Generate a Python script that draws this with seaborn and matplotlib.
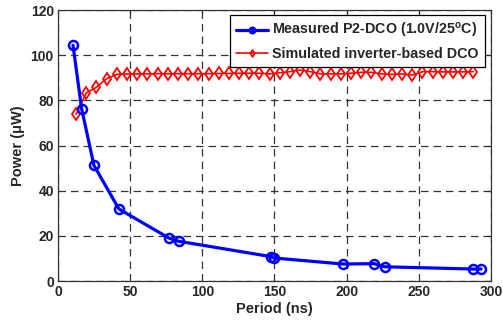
import matplotlib
matplotlib.use("Agg")
import matplotlib.pyplot as plt
import seaborn as sns
import pandas as pd

# Measured P2-DCO
meas_period = [10.4, 16.4, 24.9, 42.2, 76.9, 83.6, 147.5, 149.5, 197.8, 218.8, 226.4, 287.6, 293.2]
meas_power = [104.4, 76.2, 51.2, 31.9, 19.0, 17.6, 10.8, 10.2, 7.5, 7.7, 6.3, 5.3, 5.3]

# Simulated inverter-based DCO
sim_period = [12.5, 19.6, 26.6, 33.7, 40.7, 47.8, 54.9, 61.9, 69.0, 76.0,
              83.1, 90.2, 97.2, 104.3, 111.3, 118.4, 125.5, 132.5, 139.6, 146.6,
              153.7, 160.8, 167.8, 174.9, 181.9, 189.0, 196.1, 203.1, 210.2, 217.2,
              224.3, 231.4, 238.4, 245.5, 252.5, 259.6, 266.7, 273.7, 280.8, 287.8]
sim_power = [73.8, 83.3, 85.8, 89.6, 91.5, 91.7, 91.7, 91.7, 91.8, 91.8,
             91.8, 91.8, 91.8, 91.8, 91.9, 91.9, 92.0, 92.0, 92.0, 91.7,
             92.2, 92.7, 93.4, 92.7, 91.7, 91.7, 91.7, 92.0, 92.4, 92.4,
             91.7, 91.5, 91.7, 91.2, 92.7, 92.7, 92.6, 92.6, 92.6, 92.7]

x_ticks = [0, 50, 100, 150, 200, 250, 300]
y_ticks = [0, 20, 40, 60, 80, 100, 120]

meas_label = r"Measured P2-DCO (1.0V/25$^{\mathbf{o}}$C)"
sim_label = "Simulated inverter-based DCO"

sns.set_style("white")
plt.rcParams["font.family"] = ["Liberation Sans", "DejaVu Sans"]
plt.rcParams["mathtext.fontset"] = "custom"
plt.rcParams["mathtext.bf"] = "Liberation Sans:bold"
plt.rcParams["mathtext.rm"] = "Liberation Sans:bold"

fig = plt.figure(figsize=(5.03, 3.21), dpi=100)
ax = fig.add_axes([0.1153, 0.1246, 0.8607, 0.8442])

df_m = pd.DataFrame({"Period": meas_period, "Power": meas_power})
df_s = pd.DataFrame({"Period": sim_period, "Power": sim_power})

sns.lineplot(data=df_m, x="Period", y="Power", ax=ax, color="#0000ff",
             linewidth=2.3, marker="o", markersize=6.5, markerfacecolor="none",
             markeredgecolor="#0000ff", markeredgewidth=1.8, label=meas_label,
             sort=False, estimator=None, zorder=4)
sns.lineplot(data=df_s, x="Period", y="Power", ax=ax, color="#ff0000",
             linewidth=1.2, marker="d", markersize=6, markerfacecolor="none",
             markeredgecolor="#ff0000", markeredgewidth=1.3, label=sim_label,
             sort=False, estimator=None, zorder=3)

ax.set_xlim(0, 300)
ax.set_ylim(0, 120)
ax.set_xticks(x_ticks)
ax.set_yticks(y_ticks)
ax.set_xticklabels([str(t) for t in x_ticks], fontsize=10, fontweight="bold")
ax.set_yticklabels([str(t) for t in y_ticks], fontsize=10, fontweight="bold")
ax.set_xlabel("Period (ns)", fontsize=10.5, fontweight="bold", labelpad=2)
ax.set_ylabel("Power (\u03bcW)", fontsize=10.5, fontweight="bold", labelpad=4)

ax.grid(True, color="#333333", linestyle=(0, (6, 4)), linewidth=0.9)
ax.tick_params(direction="in", length=3, width=0.8, pad=3, top=True, right=True)
for s in ax.spines.values():
    s.set_color("#333333")
    s.set_linewidth(0.9)

leg = ax.legend(loc="upper right", bbox_to_anchor=(0.986, 0.982),
                prop={"weight": "bold", "size": 10.3}, frameon=True, fancybox=False,
                edgecolor="black", framealpha=1, borderpad=0.45, handlelength=2.2,
                handletextpad=0.3, labelspacing=0.45, borderaxespad=0,
                markerscale=0.6)
leg.get_frame().set_linewidth(0.9)

fig.savefig("out.png", dpi=100)
